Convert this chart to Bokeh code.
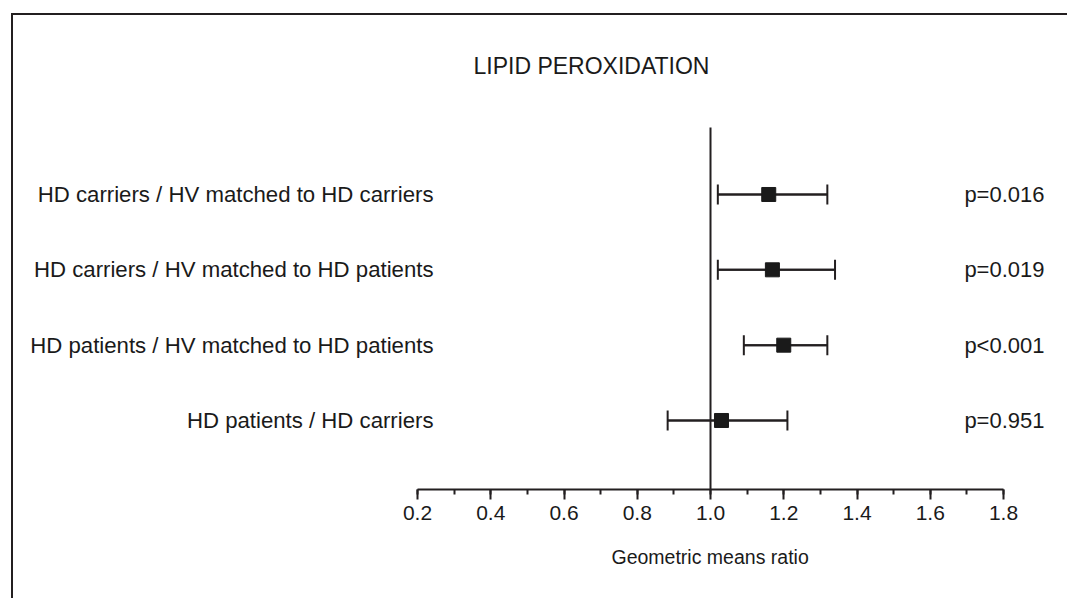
from bokeh.plotting import figure
from bokeh.models import (ColumnDataSource, Whisker, TeeHead, Range1d, Title,
                          SingleIntervalTicker, PrintfTickFormatter)
from bokeh.core.properties import value
from bokeh.embed import file_html
from bokeh.resources import INLINE

# ---- data ----
comparisons = ["HD carriers / HV matched to HD carriers",
               "HD carriers / HV matched to HD patients",
               "HD patients / HV matched to HD patients",
               "HD patients / HD carriers"]
gm_ratio = [1.159, 1.169, 1.200, 1.030]
ci_low = [1.020, 1.020, 1.091, 0.883]
ci_high = [1.319, 1.340, 1.319, 1.210]
p_values = ["p=0.016", "p=0.019", "p<0.001", "p=0.951"]
title_text = "LIPID PEROXIDATION"
x_label = "Geometric means ratio"
null_value = 1.0

FONT = "Liberation Sans"
INK = "#231f20"

rows = [len(comparisons) - i for i in range(len(comparisons))]
LABEL_X = 0.2437
P_X = 1.912
TITLE_X, TITLE_Y = 0.675, 5.71
Y_BOTTOM, Y_TOP = 0.084, 6.376
REFLINE_TOP = 4.889

src = ColumnDataSource(dict(label=comparisons, gmr=gm_ratio, lo=ci_low, hi=ci_high,
                            p=p_values, row=rows,
                            lx=[LABEL_X] * len(rows), px=[P_X] * len(rows)))

p = figure(width=1056, height=585, output_backend="svg", toolbar_location=None,
           x_range=Range1d(-0.9031, 1.9802), y_range=Range1d(Y_BOTTOM, Y_TOP),
           x_axis_location="below", y_axis_location=None,
           min_border_left=0, min_border_right=0,
           min_border_top=0, min_border_bottom=111,
           outline_line_color=None, background_fill_color="white",
           border_fill_color="white")
p.styles = {"position": "relative", "left": "11px", "top": "13px",
            "border-left": "2px solid #231f20", "border-top": "2px solid #231f20"}

p.xgrid.grid_line_color = None
p.ygrid.grid_line_color = None

# title
p.text(x=[TITLE_X], y=[TITLE_Y], text=[title_text], text_align="center",
       text_baseline="middle", text_font=value(FONT), text_font_size="23px",
       text_color="#1a1a1a")

# x axis
ax = p.xaxis[0]
ax.bounds = (0.2, 1.8)
ax.ticker = SingleIntervalTicker(interval=0.2, num_minor_ticks=2)
ax.formatter = PrintfTickFormatter(format="%.1f")
ax.axis_line_width = 2
ax.axis_line_color = INK
ax.major_tick_line_width = 2
ax.minor_tick_line_width = 2
ax.major_tick_line_color = INK
ax.minor_tick_line_color = INK
ax.major_tick_in = 0
ax.minor_tick_in = 0
ax.major_tick_out = 10
ax.minor_tick_out = 5
ax.major_label_text_font = FONT
ax.major_label_text_font_size = "21px"
ax.major_label_text_color = "#1a1a1a"
ax.major_label_standoff = 6

# axis title, centred under the 0.2-1.8 span of the axis
p.add_layout(Title(text=x_label, align="left", offset=598, standoff=42,
                   text_font=FONT, text_font_size="19.5px", text_font_style="normal",
                   text_color="#1a1a1a"), "below")

# line of no effect
p.segment(x0=[null_value], y0=[Y_BOTTOM], x1=[null_value], y1=[REFLINE_TOP],
          line_color=INK, line_width=2)

# confidence intervals
p.segment(x0="lo", y0="row", x1="hi", y1="row", source=src, line_color=INK, line_width=2)
p.add_layout(Whisker(source=src, base="row", lower="lo", upper="hi", dimension="width",
                     line_color=INK, line_width=2,
                     lower_head=TeeHead(size=20, line_width=2, line_color=INK),
                     upper_head=TeeHead(size=20, line_width=2, line_color=INK)))

# point estimates
p.scatter(x="gmr", y="row", source=src, marker="square", size=14,
          fill_color="#1a1a1a", line_color="#1a1a1a")

# labels
p.text(x="lx", y="row", text="label", source=src, text_font=value(FONT),
       text_font_size="22.2px", text_align="right", text_baseline="middle",
       text_color="#1a1a1a")
p.text(x="px", y="row", text="p", source=src, text_font=value(FONT),
       text_font_size="22px", text_align="right", text_baseline="middle",
       text_color="#1a1a1a")

open("out.html", "w").write(file_html(p, INLINE))
